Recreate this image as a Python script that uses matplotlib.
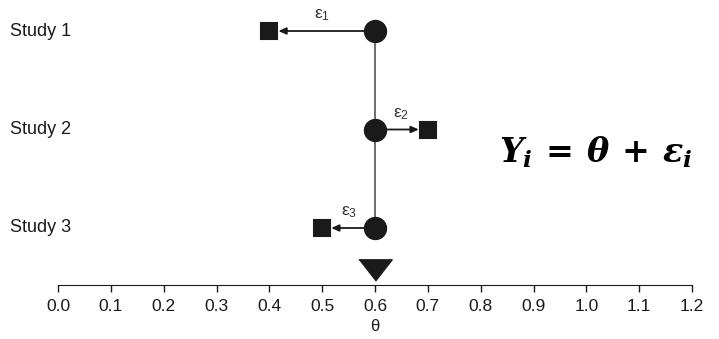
import matplotlib
matplotlib.use("Agg")
import matplotlib.pyplot as plt
from matplotlib.transforms import blended_transform_factory

# Study data: observed effects Y_i and the common true effect theta
studies = ["Study 1", "Study 2", "Study 3"]
rows = [3, 2, 1]
observed = [0.4, 0.7, 0.5]
theta = 0.6
err_labels = [r"$\mathsf{ε_1}$", r"$\mathsf{ε_2}$", r"$\mathsf{ε_3}$"]
xticks = [i / 10 for i in range(13)]
xticklabels = ["%.1f" % t for t in xticks]

plt.rcParams["font.family"] = ["Liberation Sans", "DejaVu Sans"]
plt.rcParams["mathtext.fontset"] = "custom"
plt.rcParams["mathtext.it"] = "DejaVu Serif:italic:bold"
plt.rcParams["mathtext.rm"] = "DejaVu Serif:bold"
plt.rcParams["mathtext.bf"] = "DejaVu Serif:italic:bold"
plt.rcParams["mathtext.sf"] = "Liberation Sans"

fig = plt.figure(figsize=(7.19, 3.39), dpi=100)
ax = fig.add_axes([58 / 719, 54 / 339, 634 / 719, 285 / 339])
ink = "#1a1a1a"

# vertical line joining the true-effect points
ax.plot([theta, theta], [rows[0], rows[-1]], color="#555555", lw=1.2, zorder=1)

for row, y_obs, lab in zip(rows, observed, err_labels):
    ax.annotate("", xy=(y_obs, row), xytext=(theta, row),
                arrowprops=dict(arrowstyle="-|>,head_length=0.45,head_width=0.2",
                                color=ink, lw=1.3, shrinkA=0, shrinkB=6.5),
                zorder=2)
    ax.plot(theta, row, "o", ms=15.8, color=ink, zorder=3)
    ax.plot(y_obs, row, "s", ms=11.5, color=ink, mec=ink, mew=1.5,
            zorder=3, solid_joinstyle="round")
    ax.text((theta + y_obs) / 2, row + 0.08, lab, ha="center", va="bottom",
            fontsize=12.5, color="#333333")

# summary estimate marker
tri = [(-1, 0.64), (1, 0.64), (0, -0.64)]
ax.plot(theta, 0.57, marker=tri, ms=24, color=ink, zorder=3)

# study labels on the far left
trans = blended_transform_factory(fig.transFigure, ax.transData)
for row, name in zip(rows, studies):
    ax.text(10 / 719, row, name, transform=trans, ha="left", va="center",
            fontsize=13, color=ink)

ax.set_xlim(0, 1.2)
ax.set_ylim(1 - 57 / 98.5, 3 + 31 / 98.5)
ax.set_xticks(xticks)
ax.set_xticklabels(xticklabels, fontsize=12.5, color=ink)
ax.set_yticks([])
ax.set_xlabel("θ", fontsize=12, color=ink, labelpad=4)
for side in ["top", "right", "left"]:
    ax.spines[side].set_visible(False)
ax.spines["bottom"].set_bounds(0, 1.2)
ax.spines["bottom"].set_color(ink)
ax.tick_params(axis="x", length=5, width=1, color=ink, pad=5)

# model equation
fig.text(596 / 719, 1 - 152 / 339, r"$Y_i\,=\,\theta\,+\,\varepsilon_i$",
         ha="center", va="center", fontsize=24, color="black")

fig.savefig("out.png", dpi=100)
